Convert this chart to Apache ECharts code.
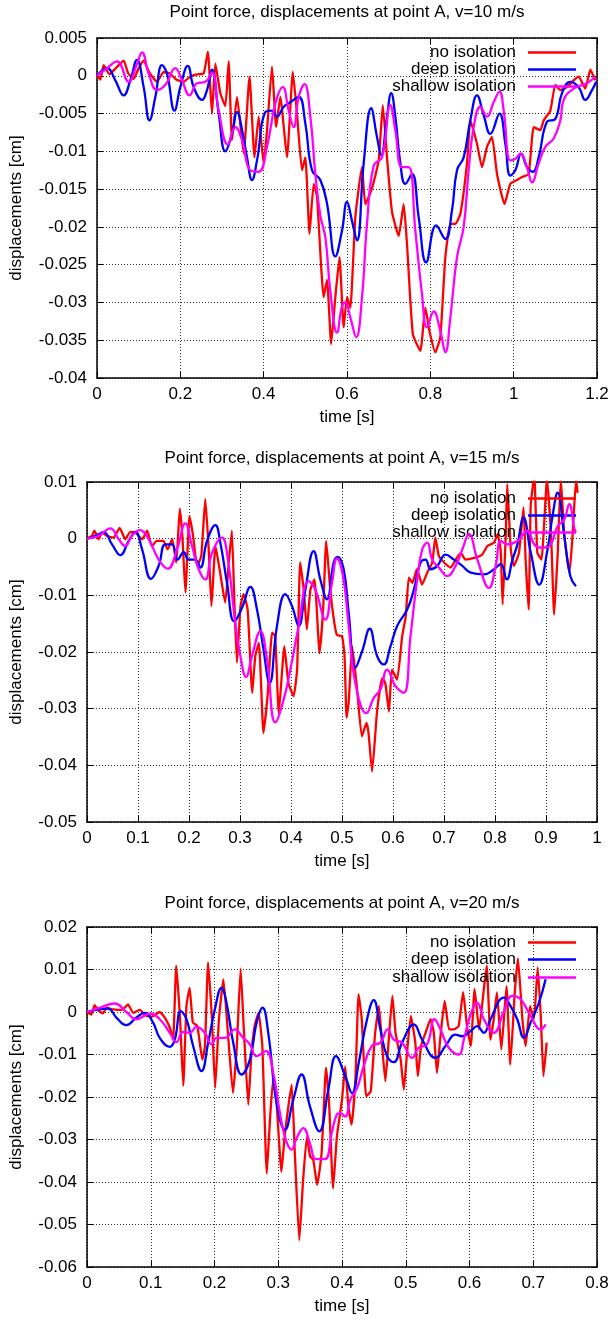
<!DOCTYPE html>
<html><head><meta charset="utf-8">
<script src="https://cdn.jsdelivr.net/npm/echarts@6/dist/echarts.min.js"></script>
<style>html,body{margin:0;padding:0;background:#fff}#c{width:612px;height:1323px}</style>
</head><body><div id="c"></div>
<script>
// ---------- data (time [s], displacement [cm]) ----------
const seriesNames = ['no isolation', 'deep isolation', 'shallow isolation'];
const seriesColors = ['#ff0000', '#0000ff', '#ff00ff'];
const titles = [
  'Point force, displacements at point A, v=10 m/s',
  'Point force, displacements at point A, v=15 m/s',
  'Point force, displacements at point A, v=20 m/s'
];
const xRange1 = [0, 1.2, 0.2];
const xRange2 = [0, 1, 0.1];
const xRange3 = [0, 0.8, 0.1];
const yRange1 = [-0.04, 0.005, 0.005];
const yRange2 = [-0.05, 0.01, 0.01];
const yRange3 = [-0.06, 0.02, 0.01];

const v10NoIsolation = [[0,0],[0.008,-0.0005],[0.016,0.0014],[0.03,0.0002],[0.045,0.001],[0.064,0.002],[0.075,0.0003],[0.088,-0.0004],[0.1,0.001],[0.112,0.002],[0.125,0.0005],[0.144,-0.0008],[0.16,0.0005],[0.175,0.0003],[0.19,-0.0005],[0.208,-0.0008],[0.224,-0.0001],[0.24,0.0002],[0.256,0.0003],[0.266,0.0032],[0.276,-0.005],[0.284,0.0016],[0.296,-0.0023],[0.308,-0.004],[0.316,0.0019],[0.324,-0.0085],[0.336,-0.0028],[0.352,-0.0103],[0.366,-0.0001],[0.378,-0.0108],[0.388,-0.0054],[0.4,-0.0116],[0.408,-0.0072],[0.42,0.0012],[0.43,-0.0068],[0.44,-0.0028],[0.456,-0.0108],[0.47,0.0005],[0.48,-0.005],[0.492,-0.0125],[0.5,-0.0108],[0.51,-0.0209],[0.52,-0.0143],[0.528,-0.016],[0.544,-0.0293],[0.552,-0.027],[0.562,-0.0355],[0.572,-0.0293],[0.582,-0.024],[0.592,-0.0333],[0.6,-0.0293],[0.608,-0.0307],[0.62,-0.0187],[0.636,-0.0121],[0.644,-0.017],[0.66,-0.0149],[0.676,-0.0112],[0.686,-0.0039],[0.696,-0.0108],[0.708,-0.018],[0.724,-0.0212],[0.736,-0.017],[0.744,-0.0223],[0.758,-0.0342],[0.776,-0.0364],[0.788,-0.0307],[0.798,-0.0338],[0.812,-0.0366],[0.824,-0.0346],[0.836,-0.024],[0.848,-0.0196],[0.86,-0.0196],[0.872,-0.0183],[0.888,-0.0116],[0.896,-0.0059],[0.912,-0.009],[0.924,-0.0121],[0.936,-0.0094],[0.948,-0.0081],[0.96,-0.013],[0.978,-0.017],[0.992,-0.0143],[1.008,-0.0138],[1.02,-0.0134],[1.036,-0.013],[1.048,-0.0068],[1.064,-0.0072],[1.072,-0.0059],[1.088,-0.0046],[1.1,-0.0012],[1.112,-0.0019],[1.128,-0.0015],[1.144,-0.0006],[1.156,-0.0001],[1.172,-0.0017],[1.184,0.0008],[1.196,-0.0006]];
const v10Deep = [[0,0],[0.024,0.001],[0.044,-0.0006],[0.064,-0.0026],[0.08,-0.0006],[0.096,0.0021],[0.112,-0.0015],[0.126,-0.0059],[0.14,-0.0028],[0.156,0.0014],[0.168,0.0003],[0.186,-0.0046],[0.2,-0.0015],[0.218,0.0013],[0.232,-0.0015],[0.252,-0.0032],[0.264,-0.0019],[0.276,0.0008],[0.292,-0.005],[0.308,-0.01],[0.324,-0.0077],[0.336,-0.0048],[0.35,-0.0077],[0.36,-0.0108],[0.372,-0.0138],[0.384,-0.0112],[0.404,-0.0048],[0.42,-0.0046],[0.432,-0.0054],[0.448,-0.0041],[0.464,-0.0035],[0.484,-0.0028],[0.5,-0.0063],[0.516,-0.0125],[0.536,-0.0138],[0.552,-0.0169],[0.572,-0.0239],[0.588,-0.0205],[0.6,-0.0167],[0.612,-0.0192],[0.624,-0.0218],[0.64,-0.0116],[0.658,-0.0043],[0.672,-0.0081],[0.682,-0.0105],[0.696,-0.0054],[0.706,-0.0023],[0.716,-0.0054],[0.728,-0.0116],[0.74,-0.0143],[0.756,-0.013],[0.772,-0.0187],[0.79,-0.0247],[0.814,-0.0198],[0.836,-0.0216],[0.852,-0.0178],[0.864,-0.0125],[0.88,-0.0108],[0.896,-0.0059],[0.912,-0.0026],[0.928,-0.0052],[0.944,-0.0077],[0.966,-0.005],[0.98,-0.009],[0.992,-0.0132],[1.004,-0.0125],[1.018,-0.0103],[1.032,-0.0121],[1.046,-0.0127],[1.06,-0.0108],[1.08,-0.0061],[1.1,-0.0057],[1.116,-0.0023],[1.136,-0.0008],[1.156,-0.0015],[1.172,-0.0032],[1.188,-0.0019],[1.198,-0.0008]];
const v10Shallow = [[0,0],[0.024,0.001],[0.048,0.0019],[0.076,-0.0008],[0.096,0.0016],[0.108,0.0031],[0.124,0.0003],[0.144,-0.0019],[0.164,-0.0012],[0.188,0.001],[0.204,-0.0006],[0.222,-0.0026],[0.24,-0.001],[0.26,-0.0008],[0.276,0.0004],[0.292,-0.0046],[0.314,-0.0091],[0.332,-0.0068],[0.348,-0.0085],[0.368,-0.0125],[0.388,-0.0127],[0.408,-0.0094],[0.428,-0.0037],[0.446,-0.0015],[0.46,-0.0046],[0.472,-0.0068],[0.484,-0.0028],[0.498,-0.0011],[0.512,-0.0054],[0.524,-0.013],[0.536,-0.0185],[0.548,-0.0214],[0.56,-0.0285],[0.576,-0.034],[0.588,-0.0305],[0.596,-0.03],[0.608,-0.032],[0.622,-0.0346],[0.636,-0.0293],[0.648,-0.0196],[0.664,-0.0119],[0.684,-0.0108],[0.704,-0.0039],[0.716,-0.0072],[0.732,-0.0121],[0.748,-0.0121],[0.764,-0.0205],[0.78,-0.0289],[0.792,-0.0333],[0.808,-0.0312],[0.824,-0.0338],[0.836,-0.0366],[0.848,-0.032],[0.864,-0.024],[0.88,-0.02],[0.892,-0.0125],[0.904,-0.0068],[0.92,-0.0041],[0.936,-0.0054],[0.952,-0.0035],[0.966,-0.0021],[0.976,-0.0046],[0.992,-0.0112],[1.004,-0.011],[1.016,-0.0103],[1.032,-0.0121],[1.044,-0.0141],[1.06,-0.0116],[1.076,-0.0094],[1.096,-0.0083],[1.112,-0.0059],[1.12,-0.0032],[1.144,-0.0017],[1.176,-0.001],[1.196,-0.0001]];

const v15NoIsolation = [[0,0],[0.0098,0.0005],[0.0144,0.0014],[0.0229,-0.0001],[0.0294,0.0011],[0.0392,0.0005],[0.0523,0.0002],[0.064,0.0019],[0.075,-0.0001],[0.085,0.0012],[0.0948,0.0011],[0.108,-0.0001],[0.118,0.0014],[0.127,-0.0013],[0.137,-0.0004],[0.15,-0.0004],[0.158,-0.0019],[0.167,-0.0001],[0.175,-0.0042],[0.182,0.0053],[0.187,0.0005],[0.193,-0.0095],[0.201,0.004],[0.208,0.0005],[0.216,-0.0048],[0.224,-0.0031],[0.232,0.007],[0.239,-0.0025],[0.244,-0.0119],[0.252,-0.0013],[0.26,-0.0054],[0.271,-0.0113],[0.278,-0.0042],[0.284,0.0014],[0.289,-0.0113],[0.294,-0.0219],[0.301,-0.0119],[0.307,-0.0098],[0.315,-0.0125],[0.324,-0.0272],[0.33,-0.0207],[0.337,-0.0184],[0.346,-0.0343],[0.354,-0.0278],[0.363,-0.0166],[0.369,-0.0172],[0.376,-0.0308],[0.387,-0.019],[0.395,-0.0255],[0.405,-0.0278],[0.412,-0.0231],[0.418,-0.0042],[0.425,-0.009],[0.431,-0.016],[0.438,-0.009],[0.446,-0.0072],[0.456,-0.0202],[0.463,-0.0125],[0.469,-0.0004],[0.477,-0.009],[0.484,-0.0143],[0.49,-0.017],[0.5,-0.0172],[0.505,-0.0207],[0.509,-0.0316],[0.513,-0.029],[0.52,-0.019],[0.529,-0.026],[0.539,-0.0349],[0.548,-0.0325],[0.552,-0.0343],[0.559,-0.0411],[0.569,-0.0302],[0.579,-0.0246],[0.585,-0.0255],[0.592,-0.0305],[0.598,-0.0231],[0.608,-0.0249],[0.618,-0.0172],[0.625,-0.0137],[0.631,-0.0069],[0.638,-0.0078],[0.647,-0.0054],[0.657,-0.0081],[0.667,-0.006],[0.677,-0.0042],[0.683,0.0002],[0.69,-0.0031],[0.7,-0.0042],[0.713,-0.0051],[0.723,-0.0037],[0.733,-0.0025],[0.742,-0.0037],[0.759,-0.0034],[0.775,-0.0028],[0.785,-0.0013],[0.798,-0.0007],[0.805,0.0008],[0.811,-0.0019],[0.815,-0.0116],[0.821,0.0005],[0.824,0.0096],[0.831,-0.0019],[0.837,-0.0048],[0.847,-0.0025],[0.856,0.0055],[0.86,-0.0037],[0.866,-0.0125],[0.87,0.0058],[0.877,0.0111],[0.883,-0.0025],[0.891,-0.0037],[0.902,0.0105],[0.91,0.0005],[0.916,-0.0134],[0.923,-0.0025],[0.929,0.0105],[0.936,0.0005],[0.946,-0.006],[0.952,0.0005],[0.959,0.0105],[0.962,0.0081]];
const v15Deep = [[0,0],[0.0163,0.0005],[0.0327,0.0011],[0.049,-0.001],[0.0654,-0.0029],[0.0817,-0.0004],[0.0948,0.0012],[0.108,-0.0019],[0.1255,-0.0071],[0.1405,-0.0048],[0.1536,-0.001],[0.1667,-0.001],[0.1778,-0.0037],[0.1895,-0.0024],[0.1993,-0.0037],[0.2124,-0.0037],[0.2222,-0.0051],[0.2353,-0.0004],[0.2516,0.0024],[0.2614,-0.0007],[0.2745,-0.0078],[0.2889,-0.0146],[0.3039,-0.0122],[0.3203,-0.0085],[0.3333,-0.0125],[0.3451,-0.019],[0.3582,-0.0255],[0.3725,-0.0154],[0.3889,-0.0098],[0.402,-0.0119],[0.415,-0.0154],[0.4281,-0.009],[0.4444,-0.0022],[0.4575,-0.0072],[0.4706,-0.0107],[0.4837,-0.0042],[0.4915,-0.0032],[0.5033,-0.0054],[0.5131,-0.0131],[0.5262,-0.0228],[0.5393,-0.0199],[0.5544,-0.0159],[0.5688,-0.0207],[0.5819,-0.0222],[0.595,-0.019],[0.6081,-0.0154],[0.6278,-0.0125],[0.6409,-0.009],[0.654,-0.0042],[0.6638,-0.0037],[0.6737,-0.0054],[0.6868,-0.0048],[0.7031,-0.0028],[0.7195,-0.0037],[0.7359,-0.0048],[0.7523,-0.006],[0.7785,-0.0063],[0.7982,-0.0054],[0.8113,-0.0045],[0.8231,-0.0072],[0.8342,-0.0037],[0.844,-0.001],[0.8558,0.0037],[0.8702,-0.0025],[0.8866,-0.0081],[0.903,-0.0019],[0.9128,0.004],[0.9227,0.0081],[0.9358,0.0005],[0.9476,-0.0066],[0.9587,-0.0084]];
const v15Shallow = [[0,0],[0.0229,0.0005],[0.0458,0.0018],[0.0621,-0.0001],[0.0752,-0.0013],[0.0882,0.0005],[0.1033,0.0015],[0.1209,-0.0001],[0.1405,-0.0037],[0.1582,-0.0053],[0.1765,-0.0019],[0.1928,0.0027],[0.2059,-0.0013],[0.219,-0.0054],[0.232,-0.0072],[0.2451,-0.0025],[0.2647,0.0002],[0.2745,-0.0025],[0.2908,-0.0149],[0.3007,-0.0207],[0.3118,-0.0244],[0.3235,-0.0207],[0.3399,-0.0163],[0.3529,-0.0213],[0.3693,-0.0324],[0.3856,-0.0284],[0.3987,-0.0231],[0.415,-0.0154],[0.4346,-0.0075],[0.4477,-0.009],[0.4673,-0.0143],[0.4804,-0.0078],[0.4902,-0.0035],[0.502,-0.0066],[0.5131,-0.0154],[0.5262,-0.0255],[0.5478,-0.0308],[0.5623,-0.0281],[0.5754,-0.0266],[0.5885,-0.0231],[0.6048,-0.026],[0.6212,-0.0272],[0.6343,-0.0172],[0.6474,-0.0072],[0.6573,-0.0019],[0.6671,-0.0007],[0.6769,-0.0037],[0.69,-0.0051],[0.7064,-0.0066],[0.7228,-0.0048],[0.7359,-0.0019],[0.749,0.0008],[0.7654,-0.0037],[0.7883,-0.0087],[0.8014,-0.0048],[0.8113,-0.0004],[0.8244,-0.001],[0.844,-0.0004],[0.8637,0.0014],[0.8768,-0.001],[0.8899,-0.0016],[0.9063,-0.0013],[0.9227,0.0022],[0.9358,0.0034],[0.9456,0.0061],[0.9554,0.0019],[0.9587,0.0011]];

const v20NoIsolation = [[0,0],[0.0068,-0.0006],[0.012,0.0016],[0.0188,0.0002],[0.0251,-0.0003],[0.0304,0.001],[0.0408,0.0006],[0.0487,0.0005],[0.0565,0.0006],[0.0644,0.0018],[0.0723,-0.0002],[0.0827,0.0005],[0.0932,-0.0009],[0.101,-0.0011],[0.114,0],[0.122,-0.0013],[0.13,-0.0037],[0.135,-0.0065],[0.14,0.0109],[0.146,-0.0017],[0.151,-0.0173],[0.156,0.0014],[0.161,0.0057],[0.166,-0.0025],[0.173,-0.0033],[0.181,-0.0112],[0.185,-0.008],[0.19,0.0117],[0.196,-0.0017],[0.201,-0.0179],[0.207,-0.0017],[0.214,0.0077],[0.221,-0.0049],[0.229,-0.0191],[0.235,-0.008],[0.241,0.0102],[0.246,-0.0041],[0.253,-0.0218],[0.258,-0.0096],[0.263,-0.0033],[0.269,-0.0002],[0.275,-0.008],[0.282,-0.038],[0.287,-0.0254],[0.292,-0.0159],[0.297,-0.0206],[0.305,-0.0376],[0.31,-0.0293],[0.321,-0.0171],[0.326,-0.0332],[0.333,-0.0537],[0.339,-0.0395],[0.345,-0.0293],[0.35,-0.034],[0.355,-0.0348],[0.361,-0.0407],[0.368,-0.0332],[0.375,-0.0131],[0.38,-0.0222],[0.386,-0.0415],[0.392,-0.0293],[0.4,-0.0206],[0.405,-0.0128],[0.41,-0.0222],[0.415,-0.0265],[0.421,-0.0159],[0.426,0.0042],[0.431,-0.0017],[0.438,-0.0198],[0.445,-0.0187],[0.452,-0.0049],[0.458,0.0014],[0.463,-0.008],[0.468,-0.0163],[0.473,-0.0072],[0.479,0.0038],[0.484,-0.0049],[0.492,-0.0112],[0.497,-0.0183],[0.502,-0.0096],[0.508,-0.0009],[0.515,-0.0072],[0.519,-0.0151],[0.524,-0.008],[0.531,-0.0049],[0.539,-0.0017],[0.544,-0.0049],[0.549,-0.0143],[0.554,-0.0065],[0.561,0.0026],[0.568,-0.0041],[0.575,-0.0041],[0.583,-0.0033],[0.59,0.0047],[0.596,-0.0033],[0.602,-0.008],[0.608,0.0054],[0.615,-0.0041],[0.623,0.0061],[0.627,0.0109],[0.633,-0.0065],[0.638,-0.0017],[0.643,0.0046],[0.65,-0.0088],[0.658,0.0061],[0.664,-0.0124],[0.671,0.0046],[0.676,0.0126],[0.683,-0.0017],[0.688,-0.008],[0.695,0.0014],[0.701,-0.0017],[0.707,0.0105],[0.712,-0.0017],[0.716,-0.0151],[0.721,-0.0072]];
const v20Deep = [[0,0],[0.0147,0.0005],[0.033,0.0008],[0.0461,-0.0013],[0.0618,-0.0031],[0.0775,-0.0013],[0.0906,-0.0002],[0.1037,-0.0025],[0.1141,-0.0061],[0.1298,-0.0082],[0.1377,-0.0065],[0.1471,0.0002],[0.156,-0.0017],[0.1665,-0.008],[0.1796,-0.0139],[0.1901,-0.0072],[0.2005,0.0006],[0.211,0.0057],[0.2188,0.0022],[0.2293,-0.0072],[0.2424,-0.0147],[0.2555,-0.0112],[0.266,-0.0025],[0.2754,0.001],[0.2843,-0.0049],[0.2974,-0.0214],[0.3105,-0.0277],[0.3236,-0.0206],[0.3366,-0.0147],[0.3497,-0.0222],[0.3644,-0.0281],[0.3785,-0.0183],[0.3906,-0.0104],[0.4052,-0.0151],[0.4157,-0.0191],[0.4262,-0.012],[0.4393,-0.0017],[0.4497,0.0028],[0.4602,-0.0041],[0.4707,-0.0104],[0.4812,-0.0118],[0.4942,-0.0072],[0.5126,-0.0029],[0.5257,-0.0065],[0.5466,-0.0108],[0.5623,-0.008],[0.578,-0.0053],[0.5885,-0.0057],[0.6016,-0.0045],[0.612,-0.0033],[0.6225,-0.0049],[0.633,-0.0017],[0.6539,0.0034],[0.6644,0.0014],[0.6749,-0.0017],[0.6853,-0.0061],[0.6958,-0.0025],[0.7089,0.0022],[0.7194,0.0077]];
const v20Shallow = [[0,0],[0.0199,0.001],[0.0435,0.002],[0.0618,0],[0.0775,-0.0017],[0.0984,-0.0004],[0.1141,-0.0017],[0.1298,-0.0049],[0.1403,-0.0071],[0.1508,-0.0047],[0.1613,-0.0049],[0.1717,-0.0035],[0.1848,-0.0049],[0.1953,-0.0076],[0.2031,-0.0061],[0.2162,-0.0061],[0.2319,-0.0041],[0.245,-0.0061],[0.2555,-0.0076],[0.266,-0.0104],[0.2806,-0.0092],[0.2921,-0.0143],[0.3026,-0.0238],[0.312,-0.0301],[0.3209,-0.0324],[0.3288,-0.0297],[0.3393,-0.0273],[0.3497,-0.0309],[0.3592,-0.0346],[0.3733,-0.0346],[0.3838,-0.0285],[0.3916,-0.0242],[0.3974,-0.0238],[0.4052,-0.0246],[0.4131,-0.0206],[0.4236,-0.0179],[0.434,-0.0128],[0.4471,-0.0079],[0.4602,-0.0072],[0.4717,-0.0041],[0.4812,-0.0065],[0.4942,-0.0072],[0.5099,-0.0108],[0.5204,-0.0084],[0.5335,-0.0076],[0.545,-0.0017],[0.5545,-0.0041],[0.5675,-0.0084],[0.5832,-0.01],[0.5911,-0.0065],[0.6016,-0.0006],[0.612,0.0022],[0.6225,-0.0017],[0.6382,-0.0049],[0.6539,0.0002],[0.667,0.0038],[0.6801,0.003],[0.6958,-0.0009],[0.7115,-0.0041],[0.7194,-0.0029]];

// ---------- layout ----------
const FONT = '"Liberation Sans", Arial, Helvetica, sans-serif';
const FS = 17;
const panels = [
  { data: [v10NoIsolation, v10Deep, v10Shallow], x: xRange1, y: yRange1,
    grid: { left: 97, top: 38, width: 500, height: 340 }, titleY: 12, legendY: [54, 71, 88], yNameGap: 72 },
  { data: [v15NoIsolation, v15Deep, v15Shallow], x: xRange2, y: yRange2,
    grid: { left: 87, top: 482, width: 510, height: 340 }, titleY: 458, legendY: [500, 517, 534], yNameGap: 62 },
  { data: [v20NoIsolation, v20Deep, v20Shallow], x: xRange3, y: yRange3,
    grid: { left: 87, top: 927, width: 510, height: 340 }, titleY: 903, legendY: [944, 961, 979], yNameGap: 62 }
];

const fmt = v => String(Math.round(v * 1e6) / 1e6);
const txt = { fontFamily: FONT, fontSize: FS, color: '#000' };
const frame = { show: true, onZero: false, lineStyle: { color: '#000', width: 1.5 } };
const tick = { show: true, inside: true, length: 6, lineStyle: { color: '#000', width: 1 } };
const gridLine = { show: true, lineStyle: { color: '#333', width: 1, type: [1, 2] } };

const option = { animation: false, backgroundColor: '#fff', grid: [], xAxis: [], yAxis: [], series: [], legend: [], graphic: [] };

panels.forEach((p, i) => {
  option.grid.push(Object.assign({ containLabel: false }, p.grid));
  const cx = p.grid.left + p.grid.width / 2;
  option.graphic.push({ type: 'text', x: cx, y: p.titleY, silent: true,
    style: { text: titles[i], font: FS + 'px ' + FONT, fill: '#000', align: 'center', verticalAlign: 'middle' } });
  option.xAxis.push({ gridIndex: i, type: 'value', position: 'bottom', min: p.x[0], max: p.x[1], interval: p.x[2],
    axisLine: frame, axisTick: tick, splitLine: gridLine,
    axisLabel: Object.assign({ margin: 8, formatter: fmt, showMinLabel: true, showMaxLabel: true }, txt),
    name: 'time [s]', nameLocation: 'middle', nameGap: 31, nameTextStyle: txt });
  option.xAxis.push({ gridIndex: i, type: 'value', position: 'top', min: p.x[0], max: p.x[1], interval: p.x[2],
    axisLine: frame, axisTick: tick, splitLine: { show: false }, axisLabel: { show: false } });
  option.yAxis.push({ gridIndex: i, type: 'value', position: 'left', min: p.y[0], max: p.y[1], interval: p.y[2],
    axisLine: frame, axisTick: tick, splitLine: gridLine,
    axisLabel: Object.assign({ margin: 10, formatter: fmt, showMinLabel: true, showMaxLabel: true }, txt),
    name: 'displacements [cm]', nameLocation: 'middle', nameGap: p.yNameGap, nameRotate: 90, nameTextStyle: txt });
  option.yAxis.push({ gridIndex: i, type: 'value', position: 'right', min: p.y[0], max: p.y[1], interval: p.y[2],
    axisLine: frame, axisTick: tick, splitLine: { show: false }, axisLabel: { show: false } });
  p.data.forEach((d, k) => {
    option.series.push({ type: 'line', name: seriesNames[k], xAxisIndex: 2 * i, yAxisIndex: 2 * i, data: d,
      symbol: 'none', showSymbol: false, clip: true, smooth: k === 0 ? 0.15 : 0.45,
      lineStyle: { color: seriesColors[k], width: 2.3 }, itemStyle: { color: seriesColors[k] }, z: 2 + k });
    option.legend.push({ data: [{ name: seriesNames[k], icon: 'rect' }], orient: 'vertical', align: 'right', right: 36,
      top: p.legendY[k] - 10, padding: 0, itemWidth: 48, itemHeight: 2.3, selectedMode: false,
      itemStyle: { color: seriesColors[k], borderWidth: 0 },
      textStyle: Object.assign({ padding: [0, 7, 0, 0] }, txt) });
  });
});

const chart = echarts.init(document.getElementById('c'), null, { renderer: 'canvas' });
chart.setOption(option);
</script>
</body></html>
